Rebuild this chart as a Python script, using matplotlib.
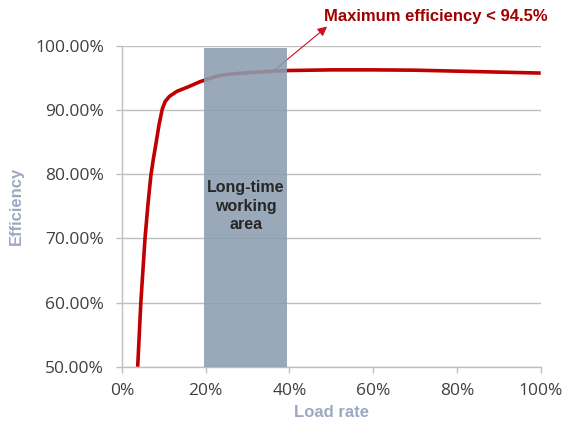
import matplotlib
matplotlib.use('Agg')
import matplotlib.pyplot as plt
from matplotlib.ticker import FuncFormatter

# efficiency curve
load = [3.75, 4.5, 5.5, 6.2, 6.9, 7.5, 8.05, 8.85, 9.6, 10.3, 11.3, 12.2, 13.1,
        15.8, 18.6, 20.9, 23.4, 26.0, 30.0, 36.2, 40.0, 50.0, 60.0, 70.0, 80.0, 90.0, 100.0]
efficiency = [50.0, 60.0, 70.0, 75.3, 79.8, 82.4, 84.5, 87.7, 90.1, 91.3, 92.1, 92.5, 92.9,
              93.6, 94.4, 94.9, 95.4, 95.6, 95.8, 96.05, 96.15, 96.25, 96.25, 96.2, 96.05, 95.9, 95.75]

x_ticks = [0, 20, 40, 60, 80, 100]
y_ticks = [50, 60, 70, 80, 90, 100]

area_start, area_end, area_top = 19.6, 39.5, 99.6
area_label = 'Long-time\nworking\narea'
note = 'Maximum efficiency < 94.5%'

fig = plt.figure(figsize=(5.73, 4.30), dpi=100)
ax = fig.add_axes([0.2129, 0.1472, 0.7307, 0.7463])

ax.plot(load, efficiency, color='#C00000', lw=2.6, solid_capstyle='butt',
        solid_joinstyle='round', zorder=3)
ax.fill_between([area_start, area_end], 50, area_top, color='#8C9DB1', alpha=0.88,
                lw=0, zorder=4)
ax.text((area_start + area_end) / 2, 75, area_label, ha='center', va='center',
        fontsize=11.5, fontweight='bold', color='#262626', family='Liberation Sans',
        linespacing=1.3, zorder=5)

ax.annotate(note, xy=(36.0, 96.0), xytext=(48.2, 104.6), textcoords='data',
            ha='left', va='center', fontsize=12, fontweight='bold', color='#A00000',
            family='Liberation Sans', annotation_clip=False,
            arrowprops=dict(arrowstyle='<|-', color='#D01020', lw=0.8,
                            mutation_scale=14, shrinkA=0, shrinkB=0,
                            relpos=(0.03, 0.0)))

ax.set_xlim(0, 100)
ax.set_ylim(50, 100)
ax.set_xticks(x_ticks)
ax.set_yticks(y_ticks)
ax.xaxis.set_major_formatter(FuncFormatter(lambda v, p: f'{v:.0f}%'))
ax.yaxis.set_major_formatter(FuncFormatter(lambda v, p: f'{v:.2f}%'))
ax.grid(axis='y', color='#BFBFBF', lw=1.0, zorder=0)
ax.set_axisbelow(True)

for s in ['top', 'right']:
    ax.spines[s].set_visible(False)
for s in ['left', 'bottom']:
    ax.spines[s].set_color('#BFBFBF')
    ax.spines[s].set_linewidth(1.0)
ax.tick_params(axis='both', colors='#BFBFBF', length=4, width=1.0)
ax.tick_params(axis='y', pad=9, labelsize=12.5, labelcolor='#404040')
ax.tick_params(axis='x', pad=8, labelsize=12.5, labelcolor='#404040')
for lbl in ax.get_xticklabels() + ax.get_yticklabels():
    lbl.set_family('Open Sans')

ax.set_xlabel('Load rate', fontsize=12, fontweight='bold', color='#9BAAC0',
              family='Liberation Sans', labelpad=4)
ax.set_ylabel('Efficiency', fontsize=12, fontweight='bold', color='#9BAAC0',
              family='Liberation Sans', labelpad=8)

fig.savefig('out.png', dpi=100)
